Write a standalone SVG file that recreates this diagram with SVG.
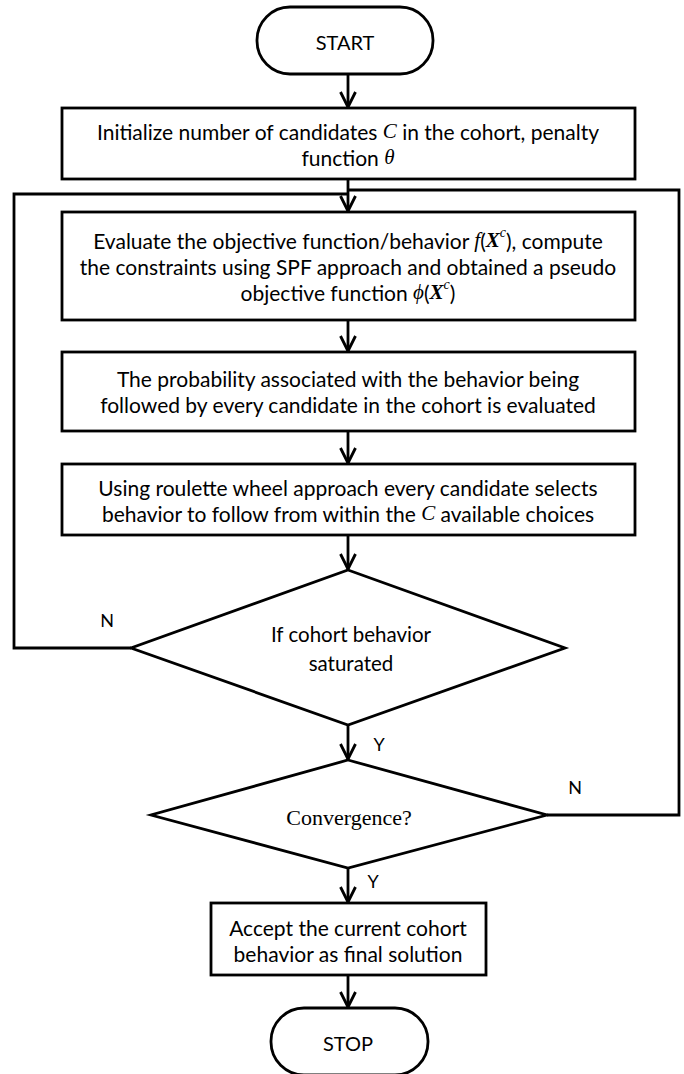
<svg xmlns="http://www.w3.org/2000/svg" width="684" height="1074" viewBox="0 0 684 1074">
<defs>
<style>
.shape{fill:#fff;stroke:#000;stroke-width:2.8}
.conn{fill:none;stroke:#000;stroke-width:2.8}
.t{font-family:Lato,"Liberation Sans",sans-serif;font-size:21px;fill:#000;text-anchor:middle;dominant-baseline:central}
.term{font-family:Lato,"Liberation Sans",sans-serif;font-size:20px;fill:#000;text-anchor:middle;dominant-baseline:central}
.d{font-family:Lato,"Liberation Sans",sans-serif;font-size:20.5px;fill:#000;text-anchor:middle;dominant-baseline:central}
.lbl{font-family:Lato,"Liberation Sans",sans-serif;font-size:18px;fill:#000;text-anchor:middle;dominant-baseline:central}
.m{font-family:"Liberation Serif",serif;font-style:italic}
.mb{font-family:"Liberation Serif",serif;font-style:italic;font-weight:bold}
.serif{font-family:"Liberation Serif",serif;font-size:22px;fill:#000;text-anchor:middle;dominant-baseline:central}
</style>
<marker id="arr" markerUnits="userSpaceOnUse" markerWidth="20" markerHeight="20" viewBox="0 0 20 20" refX="16" refY="10" orient="auto">
<path d="M1,2.5 L16,10 L1,17.5" fill="none" stroke="#000" stroke-width="2.8"/>
</marker>
</defs>

<g id="connectors">
<line class="conn" x1="348" y1="74" x2="348" y2="107" marker-end="url(#arr)"/>
<line class="conn" x1="348" y1="179" x2="348" y2="211" marker-end="url(#arr)"/>
<path class="conn" d="M131,648 H14 V194 H348"/>
<path class="conn" d="M547,815 H679 V190 H348"/>
<line class="conn" x1="348" y1="320" x2="348" y2="351" marker-end="url(#arr)"/>
<line class="conn" x1="348" y1="431" x2="348" y2="463" marker-end="url(#arr)"/>
<line class="conn" x1="348" y1="535" x2="348" y2="569" marker-end="url(#arr)"/>
<line class="conn" x1="348" y1="725" x2="348" y2="759" marker-end="url(#arr)"/>
<line class="conn" x1="348" y1="868" x2="348" y2="902" marker-end="url(#arr)"/>
<line class="conn" x1="348" y1="975" x2="348" y2="1007" marker-end="url(#arr)"/>
<text class="lbl" x="107" y="620">N</text>
<text class="lbl" x="379" y="744">Y</text>
<text class="lbl" x="575" y="787">N</text>
<text class="lbl" x="373" y="881">Y</text>
</g>

<g id="start">
<rect class="shape" x="257" y="7" width="176" height="67" rx="33" ry="33"/>
<text class="term" x="345" y="42">START</text>
</g>

<g id="init">
<rect class="shape" x="62" y="108" width="573" height="71"/>
<text class="t" x="348" y="131">Initialize number of candidates <tspan class="m">C</tspan> in the cohort, penalty</text>
<text class="t" x="348" y="157">function <tspan class="m">θ</tspan></text>
</g>

<g id="evaluate">
<rect class="shape" x="62" y="212" width="573" height="108"/>
<text class="t" x="348" y="240">Evaluate the objective function/behavior <tspan class="m">f</tspan>(<tspan class="mb">X</tspan><tspan class="m" font-size="14" dy="-8">c</tspan><tspan dy="8">), compute</tspan></text>
<text class="t" x="348" y="266">the constraints using SPF approach and obtained a pseudo</text>
<text class="t" x="348" y="292">objective function <tspan class="m">ϕ</tspan>(<tspan class="mb">X</tspan><tspan class="m" font-size="14" dy="-8">c</tspan><tspan dy="8">)</tspan></text>
</g>

<g id="probability">
<rect class="shape" x="62" y="352" width="573" height="79"/>
<text class="t" x="348" y="378">The probability associated with the behavior being</text>
<text class="t" x="348" y="404">followed by every candidate in the cohort is evaluated</text>
</g>

<g id="roulette">
<rect class="shape" x="62" y="464" width="573" height="71"/>
<text class="t" x="348" y="487">Using roulette wheel approach every candidate selects</text>
<text class="t" x="348" y="513">behavior to follow from within the <tspan class="m">C</tspan> available choices</text>
</g>

<g id="saturated">
<polygon class="shape" points="348,570 565,648 348,725 131,648"/>
<text class="d" x="351" y="634">If cohort behavior</text>
<text class="d" x="351" y="663">saturated</text>
</g>

<g id="convergence">
<polygon class="shape" points="348,760 547,815 348,868 151,815"/>
<text class="serif" x="349" y="817">Convergence?</text>
</g>

<g id="accept">
<rect class="shape" x="211" y="903" width="275" height="72"/>
<text class="t" x="348" y="927">Accept the current cohort</text>
<text class="t" x="348" y="953">behavior as final solution</text>
</g>

<g id="stop">
<rect class="shape" x="271" y="1008" width="157" height="67" rx="33" ry="33"/>
<text class="term" x="348" y="1043">STOP</text>
</g>
</svg>
